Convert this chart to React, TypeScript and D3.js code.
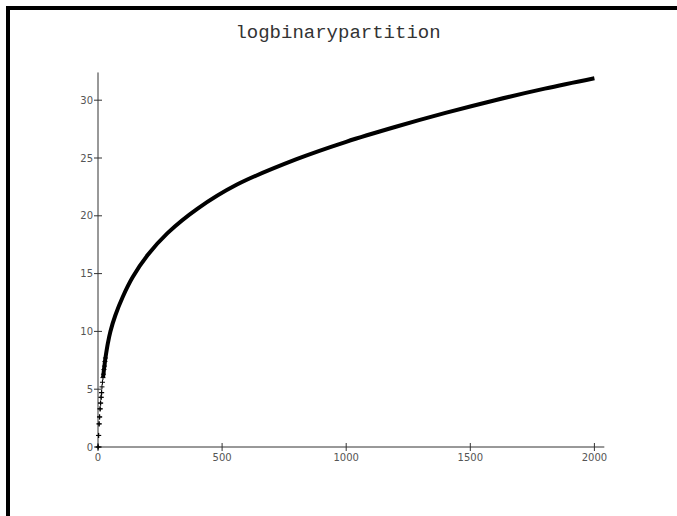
import React from 'react';
import * as d3 from 'd3';

const chartTitle = 'logbinarypartition';
const xTicks = [0, 500, 1000, 1500, 2000];
const yTicks = [0, 5, 10, 15, 20, 25, 30];
const xAxisMax = 2040;
const yAxisMax = 32.4;

// n values and the plotted value
const nValues = [0, 1, 2, 3, 4, 5, 6, 7, 8, 9, 10, 11, 12, 13, 14, 15, 16, 18, 20, 22, 24, 26, 28, 30, 40, 50, 70, 100, 140, 200, 280, 400, 560, 800, 1000, 1200, 1400, 1600, 1800, 2000];
const seriesValues = [0, 0, 1, 1, 2, 2, 2.6, 2.6, 3.3, 3.3, 3.8, 3.8, 4.3, 4.3, 4.7, 4.7, 5.2, 5.6, 6.0, 6.3, 6.7, 7.0, 7.4, 7.7, 9.0, 10.0, 11.4, 13.0, 14.7, 16.6, 18.5, 20.6, 22.7, 24.9, 26.4, 27.7, 28.9, 30.0, 31.0, 31.9];
const markerLimit = 30; // points drawn as separate '+' markers up to this n
const lineStart = 20;

export default function App() {
  const W = 677;
  const H = 516;
  const x = d3.scaleLinear().domain([0, 2000]).range([98, 594.4]);
  const y = d3.scaleLinear().domain([0, 30]).range([447, 100.2]);
  const pts: [number, number][] = nValues.map((n, i) => [n, seriesValues[i]]);
  const linePts = pts.filter((p) => p[0] >= lineStart);
  const markerPts = pts.filter((p) => p[0] <= markerLimit);
  const line = d3
    .line<[number, number]>()
    .x((d) => x(d[0]))
    .y((d) => y(d[1]))
    .curve(d3.curveCatmullRom.alpha(0.5));
  const axisColor = '#333';
  const labelColor = '#555';
  const x0 = x(0);
  const y0 = y(0);
  return (
    <div style={{ position: 'fixed', left: 0, top: 0, width: W, height: H, background: '#fff' }}>
      <svg width={W} height={H} style={{ display: 'block' }}>
        <rect x={0} y={0} width={W} height={H} fill="#fff" />
        <rect x={8} y={8} width={720} height={560} fill="none" stroke="#000" strokeWidth={4} />
        <text
          x={338}
          y={38}
          textAnchor="middle"
          fontFamily="'Liberation Mono', 'DejaVu Sans Mono', monospace"
          fontSize={19}
          fill="#333"
        >
          {chartTitle}
        </text>
        {/* axes */}
        <line x1={x0} y1={y0} x2={x0} y2={y(yAxisMax)} stroke={axisColor} strokeWidth={1} />
        <line x1={x0} y1={y0} x2={x(xAxisMax)} y2={y0} stroke={axisColor} strokeWidth={1} />
        {yTicks.map((t) => (
          <g key={'y' + t}>
            <line x1={x0 - 4} x2={x0 + 4} y1={y(t)} y2={y(t)} stroke={axisColor} strokeWidth={1} />
            <text
              x={x0 - 5}
              y={y(t)}
              dy="0.35em"
              textAnchor="end"
              fontFamily="'DejaVu Sans', sans-serif"
              fontSize={10}
              fill={labelColor}
            >
              {t}
            </text>
          </g>
        ))}
        {xTicks.map((t) => (
          <g key={'x' + t}>
            <line x1={x(t)} x2={x(t)} y1={y0 - 4} y2={y0 + 4} stroke={axisColor} strokeWidth={1} />
            <text
              x={x(t)}
              y={y0 + 14}
              textAnchor="middle"
              fontFamily="'DejaVu Sans', sans-serif"
              fontSize={10}
              fill={labelColor}
            >
              {t}
            </text>
          </g>
        ))}
        {/* series */}
        <path d={line(linePts) || ''} fill="none" stroke="#000" strokeWidth={4} strokeLinejoin="round" strokeLinecap="butt" />
        {markerPts.map((p, i) => (
          <path
            key={'m' + i}
            d={`M${x(p[0]) - 2.5},${y(p[1])}h5M${x(p[0])},${y(p[1]) - 2.5}v5`}
            stroke="#000"
            strokeWidth={1}
            fill="none"
          />
        ))}
      </svg>
    </div>
  );
}
